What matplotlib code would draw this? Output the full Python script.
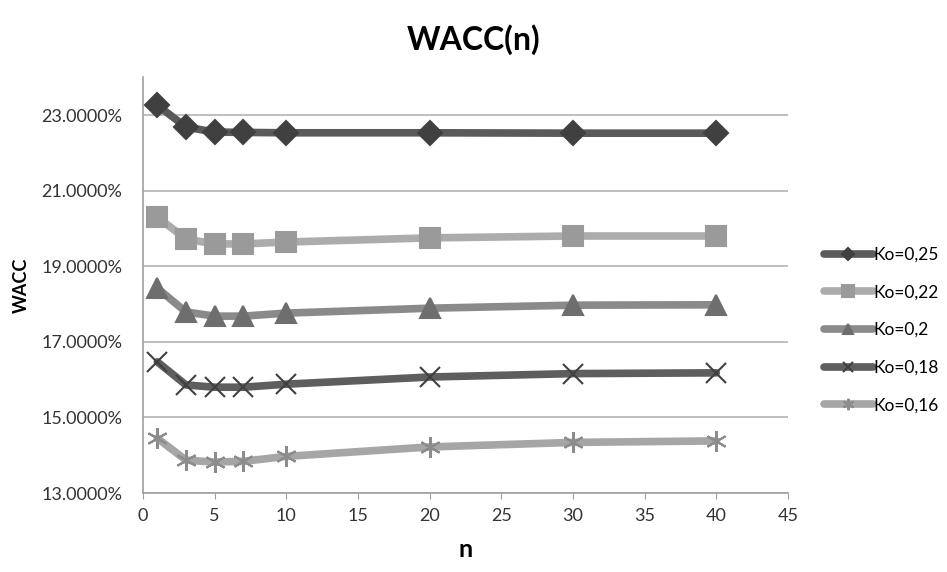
import matplotlib.pyplot as plt
from matplotlib.ticker import FuncFormatter

plt.rcParams['font.family'] = ['Lato', 'DejaVu Sans']

n = [1, 3, 5, 7, 10, 20, 30, 40]
labels = ['Ko=0,25', 'Ko=0,22', 'Ko=0,2', 'Ko=0,18', 'Ko=0,16']
wacc_025 = [23.26, 22.68, 22.55, 22.54, 22.53, 22.53, 22.52, 22.52]
wacc_022 = [20.30, 19.72, 19.59, 19.59, 19.64, 19.75, 19.80, 19.80]
wacc_020 = [18.42, 17.79, 17.68, 17.68, 17.76, 17.89, 17.97, 17.98]
wacc_018 = [16.47, 15.86, 15.80, 15.80, 15.88, 16.07, 16.16, 16.18]
wacc_016 = [14.45, 13.87, 13.82, 13.84, 13.97, 14.22, 14.34, 14.38]

series = [wacc_025, wacc_022, wacc_020, wacc_018, wacc_016]
line_colors = ['#5a5a5a', '#acacac', '#8a8a8a', '#5e5e5e', '#a6a6a6']
marker_colors = ['#404040', '#9a9a9a', '#6e6e6e', '#404040', '#8c8c8c']
markers = ['D', 's', '^', 'x', (6, 2, 0)]
msizes = [12, 15, 14, 14, 15]

fig = plt.figure(figsize=(9.47, 5.72), dpi=100)
ax = fig.add_axes([0.151, 0.138, 0.681, 0.727])

for ys, lab, lc, mc, m, ms in zip(series, labels, line_colors, marker_colors, markers, msizes):
    ax.plot(n, ys, color=lc, linewidth=5.5, marker=m, markersize=ms,
            markerfacecolor=mc, markeredgecolor=mc, markeredgewidth=1.5,
            label=lab, solid_capstyle='round', zorder=3)

ax.set_xlim(0, 45)
ax.set_ylim(13, 24)
ax.set_xticks(range(0, 46, 5))
ax.set_yticks([13, 15, 17, 19, 21, 23])
ax.yaxis.set_major_formatter(FuncFormatter(lambda v, p: '%.4f%%' % v))
ax.grid(axis='y', color='#b4b4b4', linewidth=1.2)
ax.set_axisbelow(True)
for s in ['top', 'right']:
    ax.spines[s].set_visible(False)
for s in ['left', 'bottom']:
    ax.spines[s].set_color('#a0a0a0')
    ax.spines[s].set_linewidth(1.2)
ax.tick_params(axis='y', labelsize=13, colors='#333333', length=0, pad=15)
ax.tick_params(axis='x', labelsize=13, colors='#333333', length=4, color='#a0a0a0', pad=7)

ax.set_xlabel('n', fontsize=18, fontweight='bold', labelpad=10)
ax.set_ylabel('WACC', fontsize=13, fontweight='bold')
ax.yaxis.set_label_coords(-0.176, 0.5)
fig.suptitle('WACC(n)', fontsize=23, fontweight='bold', y=0.957, x=0.5)

ax.legend(loc='center left', bbox_to_anchor=(0.87, 0.423), bbox_transform=fig.transFigure,
          frameon=False, fontsize=12.5, handlelength=2.8, labelspacing=1.25,
          handletextpad=0.05, markerscale=0.55, borderpad=0, borderaxespad=0)

fig.savefig('out.png', dpi=100)
